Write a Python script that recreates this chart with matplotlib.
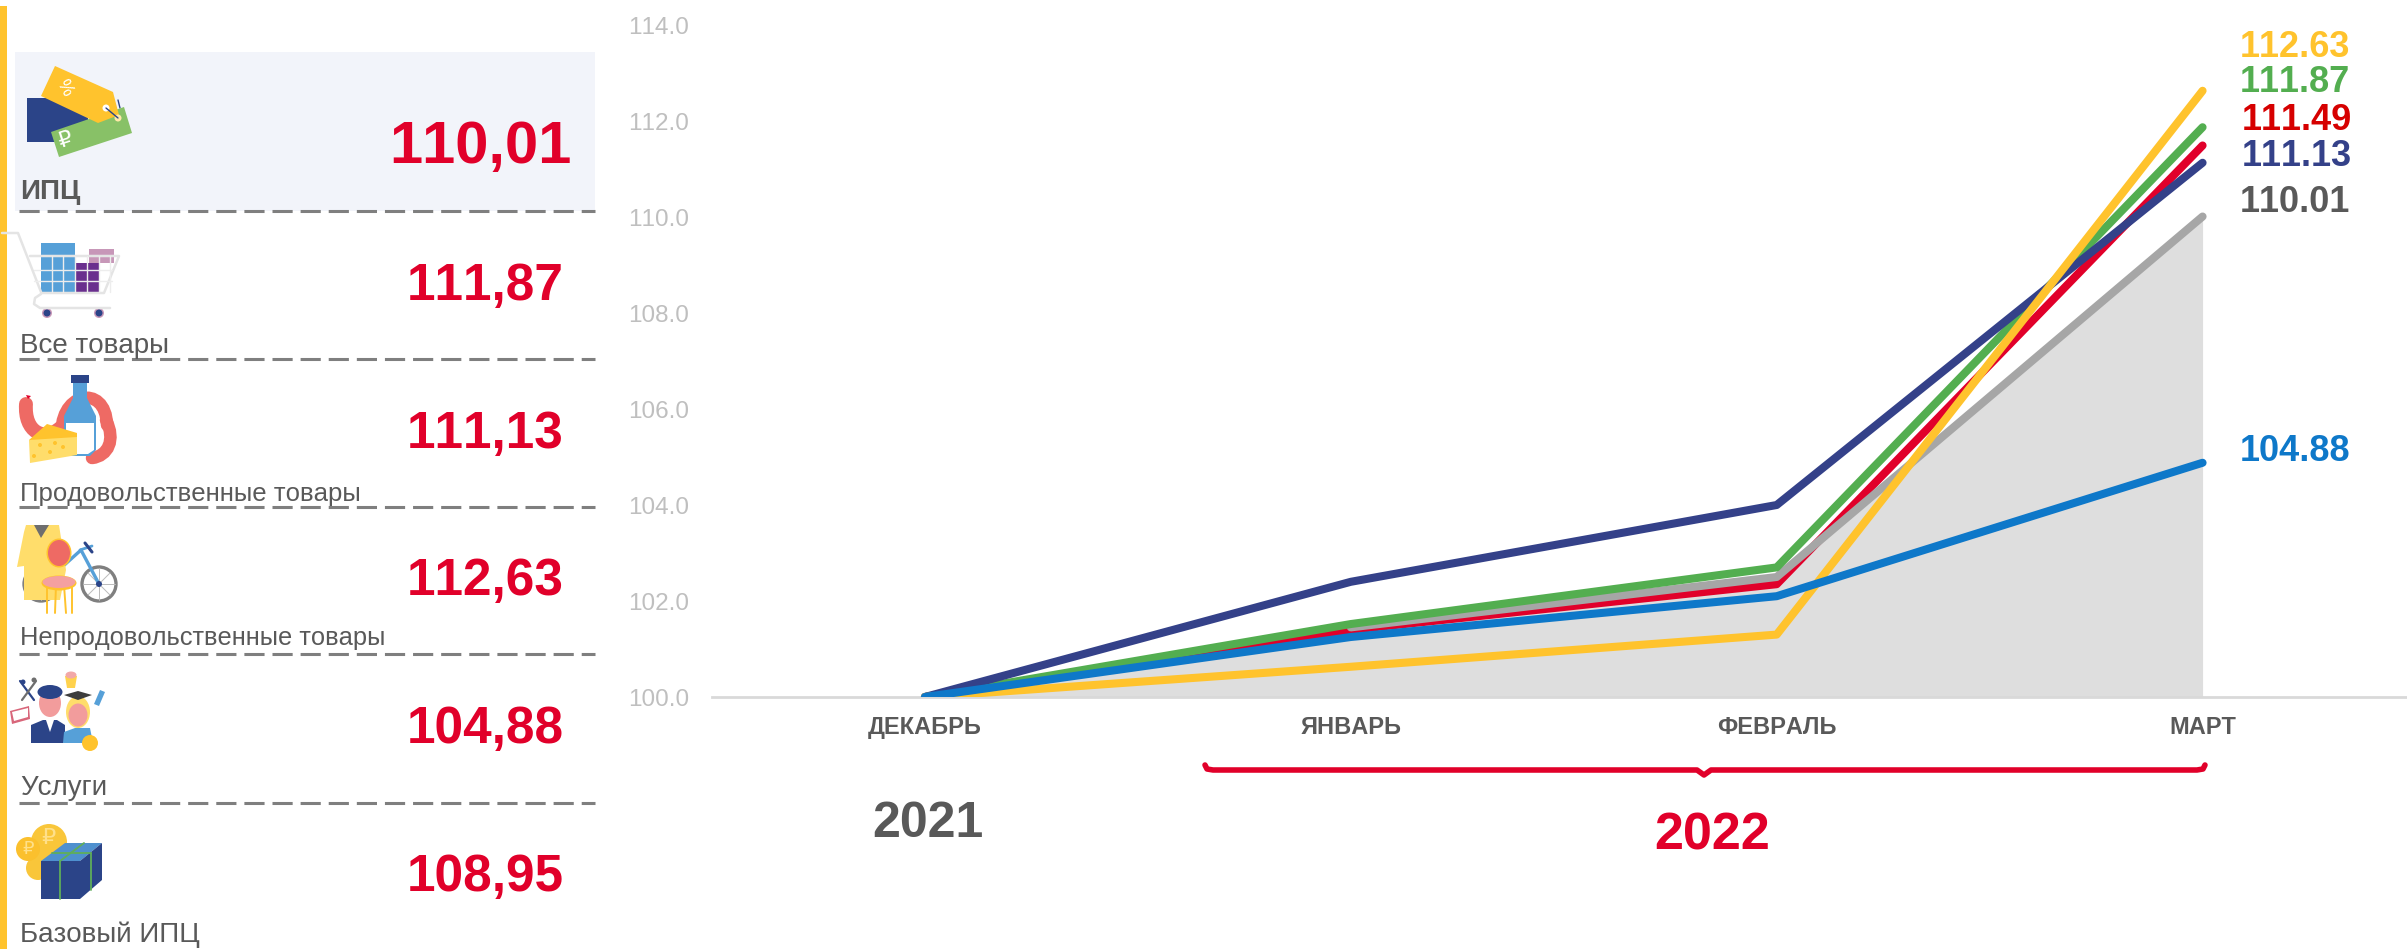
"""Индексы потребительских цен: left panel with icons, line chart on the right."""
import matplotlib
matplotlib.use('Agg')
import matplotlib.pyplot as plt
from matplotlib.patches import Circle, Ellipse, PathPatch, Polygon, Rectangle
from matplotlib.path import Path

plt.rcParams['font.family'] = ['Liberation Sans', 'DejaVu Sans']
plt.rcParams['text.kerning_factor'] = 6

# data
months = ['ДЕКАБРЬ', 'ЯНВАРЬ', 'ФЕВРАЛЬ', 'МАРТ']
y_ticks = [100, 102, 104, 106, 108, 110, 112, 114]
cpi = [100, 101.45, 102.5, 110.01]
goods = [100, 101.52, 102.7, 111.87]
red_series = [100, 101.4, 102.35, 111.49]
food = [100, 102.4, 104.0, 111.13]
nonfood = [100, 100.63, 101.3, 112.63]
services = [100, 101.25, 102.1, 104.88]

panel_labels = ['ИПЦ', 'Все товары', 'Продовольственные товары',
                'Непродовольственные товары', 'Услуги', 'Базовый ИПЦ']
panel_values = [110.01, 111.87, 111.13, 112.63, 104.88, 108.95]

YELLOW = '#FFC32D'
GREEN = '#53AE50'
RED = '#E1002A'
NAVY = '#344189'
DARK = '#2B4488'
BLUE = '#0E78C9'
LIGHTBLUE = '#56A0D8'
GREY = '#A6A6A6'
TEXT = '#595959'
SALMON = '#EE6A64'
PINK = '#F29C9C'

W, H = 2407, 949
fig = plt.figure(figsize=(W / 100, H / 100), dpi=100)

# chart axes, placed so that 100 sits at y=697 and 114 at y=25
ax = fig.add_axes([712 / W, 1 - 697 / H, (W - 712) / W, 672 / H])
xs = range(len(months))
ax.fill_between(xs, cpi, 100, color='#DEDEDE', lw=0, zorder=1)
lw = 5.8
ax.plot(xs, red_series, color=RED, lw=lw, solid_capstyle='round', zorder=2)
ax.plot(list(xs)[1:], cpi[1:], color=GREY, lw=lw, solid_capstyle='round', zorder=3)
ax.plot(xs, goods, color=GREEN, lw=lw, solid_capstyle='round', zorder=4)
ax.plot(xs, food, color=NAVY, lw=lw, solid_capstyle='round', zorder=5)
ax.plot(xs, nonfood, color=YELLOW, lw=lw, solid_capstyle='round', zorder=6)
ax.plot(xs, services, color=BLUE, lw=lw, solid_capstyle='round', zorder=7)

ax.set_xlim(-0.5, 3.48)
ax.set_ylim(100, 114)
ax.set_yticks(y_ticks, [f'{v:.1f}' for v in y_ticks])
ax.set_xticks(list(xs), months)
ax.tick_params(axis='both', length=0)
ax.tick_params(axis='y', labelsize=17.5, labelcolor='#BFBFBF', pad=16.5)
ax.tick_params(axis='x', labelsize=17, labelcolor=TEXT, pad=14)
for t in ax.get_xticklabels():
    t.set_fontweight('bold')
for s in ['top', 'right', 'left']:
    ax.spines[s].set_visible(False)
ax.spines['bottom'].set_color('#D9D9D9')
ax.spines['bottom'].set_linewidth(2)
ax.patch.set_alpha(0)

# everything else goes on an overlay in pixel coordinates
ov = fig.add_axes([0, 0, 1, 1], zorder=-1)
ov.set_xlim(0, W)
ov.set_ylim(H, 0)
ov.axis('off')
top = fig.add_axes([0, 0, 1, 1], zorder=5)
top.set_xlim(0, W)
top.set_ylim(H, 0)
top.axis('off')


def poly(pts, color, z=3):
    top.add_patch(Polygon(pts, closed=True, fc=color, ec='none', zorder=z))


def circ(x, y, r, color, z=3):
    top.add_patch(Circle((x, y), r, fc=color, ec='none', zorder=z))


def ell(x, y, w, h, color, z=3, angle=0):
    top.add_patch(Ellipse((x, y), w, h, angle=angle, fc=color, ec='none', zorder=z))


def rect(x0, y0, x1, y1, color, z=3):
    top.add_patch(Rectangle((x0, y0), x1 - x0, y1 - y0, fc=color, ec='none', zorder=z))


def seg(pts, color, width=1.5, z=3):
    top.plot([p[0] for p in pts], [p[1] for p in pts], color=color, lw=width,
             solid_capstyle='round', solid_joinstyle='round', zorder=z)


def curve(p0, c1, c2, p1, color, width, z=3):
    path = Path([p0, c1, c2, p1], [Path.MOVETO, Path.CURVE4, Path.CURVE4, Path.CURVE4])
    top.add_patch(PathPatch(path, fc='none', ec=color, lw=width, capstyle='round', zorder=z))


# left panel background
ov.add_patch(Rectangle((0, 6), 7, H - 6, fc=YELLOW, ec='none'))
ov.add_patch(Rectangle((15, 52), 580, 159, fc='#F2F4FA', ec='none'))
for y in [211, 359, 507, 654, 803]:
    top.plot([19, 595], [y, y], color='#7F7F7F', lw=2.2, linestyle=(0, (6.6, 2.6)),
             dash_capstyle='butt', zorder=2)

# panel texts
label_base = [199, 353, 501, 645, 795, 942]
label_size = [20, 20, 18.5, 18.4, 20, 20]
value_base = [163, 300, 448, 595, 743, 891]
for i, (lab, val) in enumerate(zip(panel_labels, panel_values)):
    top.text(20, label_base[i], lab, color=TEXT, fontsize=label_size[i],
             fontweight='bold' if i == 0 else 'normal', va='baseline', zorder=4)
    txt = f'{val:.2f}'.replace('.', ',')
    if i == 0:
        top.text(389, value_base[i], txt, color=RED, fontsize=43, fontweight='bold',
                 va='baseline', zorder=4)
    else:
        top.text(407, value_base[i], txt, color=RED, fontsize=37, fontweight='bold',
                 va='baseline', zorder=4)

# end-of-line labels
end_vals = [nonfood[-1], goods[-1], red_series[-1], food[-1], cpi[-1], services[-1]]
end_cols = [YELLOW, GREEN, '#D60000', NAVY, TEXT, BLUE]
end_x = [2240, 2240, 2242, 2242, 2240, 2240]
end_base = [57, 92, 130, 166, 212, 461]
for v, c, x, y in zip(end_vals, end_cols, end_x, end_base):
    top.text(x, y, f'{v:.2f}', color=c, fontsize=26, fontweight='bold', va='baseline')

# years and brace
top.text(928, 837, '2021', color=TEXT, fontsize=36, fontweight='bold', ha='center', va='baseline')
top.text(1712, 850, '2022', color=RED, fontsize=37.5, fontweight='bold', ha='center', va='baseline')
seg([(1205, 765), (1207, 769), (1213, 770), (1697, 770), (1704, 775), (1711, 770),
     (2197, 770), (2203, 769), (2205, 765)], RED, 4)

# icon: price tags
rect(27, 98, 88, 142, DARK)
poly([(55, 66), (113, 92), (119, 115), (98, 123), (41, 96)], YELLOW, 5)
poly([(51, 132), (124, 107), (132, 133), (59, 157)], '#88C167', 4)
circ(106, 108, 3.5, 'white', 6)
circ(118, 118, 3.5, '#FFE9A8', 6)
seg([(106, 108), (118, 118)], DARK, 1, 7)
seg([(118, 100), (120, 108)], DARK, 1, 3)
top.text(64, 88, '%', color='white', fontsize=13, rotation=-62, ha='center', va='center', zorder=6)
top.text(65, 140, '₽', color='white', fontsize=16, family='DejaVu Sans', rotation=18,
         ha='center', va='center', zorder=6)

# icon: cart
rect(41, 243, 75, 292, LIGHTBLUE)
rect(75, 263, 99, 292, '#6A2F8E')
rect(89, 249, 114, 263, '#C797B8')
cart = '#E4E4E4'
seg([(2, 233), (18, 233), (41, 292)], cart, 1.8, 4)
seg([(30, 256), (119, 256), (104, 293), (41, 293)], cart, 1.8, 4)
for y in [270, 281]:
    seg([(34, y), (112, y)], '#EDEDED', 1.0, 4)
for x in [52, 63, 75, 87, 99, 110]:
    seg([(x, 256), (x, 292)], '#EDEDED', 1.0, 4)
seg([(41, 294), (35, 298), (34, 304), (40, 308), (110, 308)], cart, 1.8, 4)
circ(47, 313, 5, '#C797B8')
circ(47, 313, 3.5, DARK, 4)
circ(99, 313, 5, '#C797B8')
circ(99, 313, 3.5, DARK, 4)

# icon: food
curve((26, 404), (24, 432), (44, 442), (60, 428), SALMON, 10, 3)
curve((62, 440), (56, 392), (106, 382), (107, 425), SALMON, 9, 3)
curve((106, 420), (116, 440), (108, 456), (92, 458), SALMON, 9, 3)
poly([(26, 395), (31, 396), (28, 399)], RED, 4)
poly([(73, 383), (87, 383), (87, 398), (96, 416), (96, 450), (90, 456), (70, 456),
      (64, 450), (64, 416), (73, 398)], LIGHTBLUE, 4)
poly([(66, 423), (94, 423), (94, 450), (88, 454), (70, 454), (66, 450)], 'white', 5)
rect(71, 375, 89, 383, DARK, 5)
poly([(29, 440), (47, 424), (77, 433), (77, 440)], YELLOW, 6)
poly([(29, 440), (77, 437), (77, 455), (30, 463)], '#FFDD6B', 6)
for x, y in [(40, 445), (55, 443), (63, 447), (50, 452), (34, 456)]:
    circ(x, y, 2, YELLOW, 7)

# icon: coat, chair, bicycle
for cx in [41, 99]:
    top.add_patch(Circle((cx, 584), 17, fc='none', ec='#7F7F7F', lw=2.4, zorder=3))
    for dx, dy in [(-16, 0), (0, -16), (0, 16), (16, 0), (11, 11), (-11, -11), (11, -11), (-11, 11)]:
        seg([(cx, 584), (cx + dx, 584 + dy)], '#BBBBBB', 0.7, 3)
circ(99, 584, 3, DARK, 4)
seg([(99, 584), (81, 550), (51, 577)], LIGHTBLUE, 2.4, 3)
seg([(80, 550), (92, 546)], LIGHTBLUE, 2, 3)
seg([(85, 543), (92, 552)], DARK, 2.2, 4)
poly([(26, 525), (59, 525), (66, 570), (60, 600), (24, 600), (24, 566), (17, 567), (24, 532)],
     '#FFDD6B', 4)
poly([(34, 525), (49, 525), (41, 538)], '#6E6E6E', 5)
for x0, x1 in [(47, 47), (56, 55), (64, 66), (72, 72)]:
    seg([(x0, 585), (x1, 613)], YELLOW, 1.4, 6)
ell(59, 553, 25, 29, YELLOW, 5)
ell(59, 553, 22, 26, SALMON, 6)
ell(59, 583, 35, 15, YELLOW, 6)
ell(59, 582, 33, 12, '#F4A0A0', 7)

# icon: services
seg([(20, 681), (34, 700)], DARK, 1.6)
seg([(36, 681), (22, 700)], '#6E6E6E', 1.6)
circ(23, 682, 2.5, DARK)
circ(34, 680, 2.5, '#6E6E6E')
poly([(10, 711), (29, 706), (30, 719), (12, 724)], '#D8667A')
poly([(12, 712), (28, 708), (28, 717), (14, 721)], 'white', 4)
poly([(65, 676), (77, 676), (75, 688), (67, 688)], '#FFD24D')
ell(71, 675, 11, 7, '#F2A8A8', 4)
poly([(100, 690), (105, 692), (99, 706), (94, 704)], LIGHTBLUE)
ell(50, 692, 25, 14, DARK, 4)
ell(50, 703, 22, 28, PINK, 3)
poly([(31, 743), (31, 725), (43, 720), (57, 720), (65, 725), (65, 743)], DARK, 4)
poly([(46, 720), (54, 720), (50, 732)], 'white', 5)
poly([(63, 743), (64, 732), (75, 728), (90, 728), (93, 743)], LIGHTBLUE, 4)
ell(78, 712, 24, 32, '#FFDD6B', 4)
ell(78, 715, 19, 23, PINK, 5)
poly([(64, 695), (78, 691), (92, 695), (78, 700)], '#3D3D3D', 6)
circ(90, 743, 8, YELLOW, 6)

# icon: box and coins
circ(49, 842, 18, '#F9C63A')
circ(28, 849, 12, '#FBC02D', 4)
circ(38, 868, 12, '#F9C63A', 2)
top.text(28, 849, '₽', color='#FFE08A', fontsize=13, family='DejaVu Sans',
         ha='center', va='center', zorder=5)
top.text(48, 838, '₽', color='#FFE08A', fontsize=16, family='DejaVu Sans',
         ha='center', va='center', zorder=4)
rect(41, 861, 80, 899, DARK, 5)
poly([(41, 861), (65, 843), (102, 843), (80, 861)], '#4E90CF', 5)
poly([(80, 861), (102, 843), (102, 880), (80, 899)], DARK, 5)
seg([(60, 861), (60, 899)], '#5FAE5A', 1.3, 6)
seg([(60, 861), (84, 843)], '#5FAE5A', 1.3, 6)
seg([(52, 853), (91, 853)], '#5FAE5A', 1.3, 6)
seg([(91, 853), (91, 890)], '#5FAE5A', 1.3, 6)

fig.savefig('out.png', dpi=100)
plt.close(fig)
